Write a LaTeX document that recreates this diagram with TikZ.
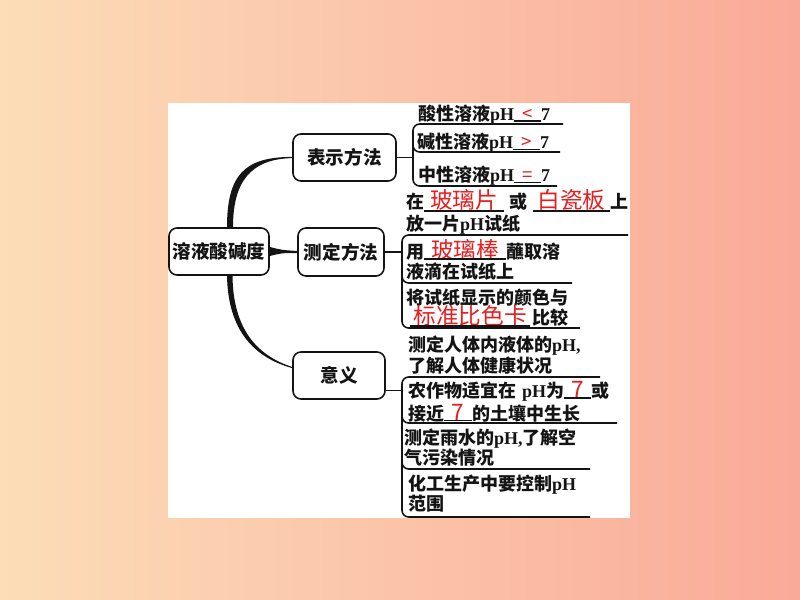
\documentclass[tikz,border=0pt]{standalone}
\usepackage{fontspec}
\usetikzlibrary{calc}
\newfontfamily\hei{Noto Sans CJK SC}
\newfontfamily\lat{Liberation Serif}
\newdimen\pxu \pxu=0.75pt
\definecolor{bgL}{RGB}{252,221,184}
\definecolor{bgM}{RGB}{251,200,170}
\definecolor{bgR}{RGB}{250,170,152}
\definecolor{ink}{RGB}{20,20,20}
\definecolor{redt}{RGB}{232,30,30}
\newcommand\pH{{\lat\bfseries pH}}
\newcommand\sev{{\lat\bfseries 7}}
\newcommand\cma{{\lat\bfseries ,}}
% [thickness]{width px}{raise pt}{size pt}{content}
\newcommand\gap[5][0.9]{\makebox[#2\pxu][c]{\color{redt}\mdseries\fontsize{#4pt}{#4pt}\selectfont #5}\llap{\rule[#3pt]{#2\pxu}{#1pt}}}
\begin{document}
\begin{tikzpicture}[x=0.75pt,y=-0.75pt,
  box/.style={draw=ink, line width=1.2pt, rounded corners=6pt, fill=white, inner sep=0pt, text=ink,
    font=\hei\bfseries\fontsize{13.9pt}{16pt}\selectfont},
  txt/.style={anchor=base west, inner sep=0pt, outer sep=0pt, text=ink,
    font=\hei\bfseries\fontsize{13.5pt}{16pt}\selectfont},
  uline/.style={draw=ink, line width=1.2pt, rounded corners=5pt},
  conn/.style={draw=ink, line width=1.2pt},
  taper/.style={fill=ink}]
\useasboundingbox (0,0) rectangle (800,600);
\shade[left color=bgL, middle color=bgM, right color=bgR] (0,0) rectangle (800,600);
\fill[white] (168,103) rectangle (630,518);

% main nodes
\node[box, minimum width=75pt, minimum height=35.25pt] (root) at (219,251.5) {溶液酸碱度};
\node[box, minimum width=77.25pt, minimum height=35.25pt] (n1) at (344.5,157.5) {表示方法};
\node[box, minimum width=64.5pt, minimum height=36pt] (n2) at (341,252) {测定方法};
\node[box, minimum width=69pt, minimum height=35.25pt] (n3) at (339,375.5) {意义};

% tapered connectors
\fill[taper] ($(root.north)+(8,0)$) .. controls ($(root.north)+(8,-52)$) and ($(n1.west)+(-48,-0.6)$) .. ($(n1.west)+(0,-0.6)$)
  -- ($(n1.west)+(0,0.6)$) .. controls ($(n1.west)+(-42,1.5)$) and ($(root.north)+(14,-45)$) .. ($(root.north)+(14,0)$) -- cycle;
\fill[taper] ($(root.east)+(0,-4.5)$) .. controls ($(root.east)+(12,-1.5)$) .. ($(n2.west)+(0,-1)$)
  -- ($(n2.west)+(0,1)$) .. controls ($(root.east)+(12,1.5)$) .. ($(root.east)+(0,4.5)$) -- cycle;
\fill[taper] ($(root.south)+(8,0)$) .. controls ($(root.south)+(9,55)$) and ($(n3.west)+(-38,-18)$) .. ($(n3.west)+(0,-7.4)$)
  -- ($(n3.west)+(0,-8.6)$) .. controls ($(n3.west)+(-36,-20)$) and ($(root.south)+(14,52)$) .. ($(root.south)+(13.5,0)$) -- cycle;

% branch connectors
\coordinate (s1) at (413,157.5);
\coordinate (s2) at (402,252);
\coordinate (s3) at (402,390.5);
\draw[conn] (n1.east) -- (s1);
\draw[conn] (n2.east) -- (s2);
\draw[conn] (n3.east |- s3) -- (s3);

% brackets / underlines
\draw[uline] (563,124) -- (413,124) -- (413,186) -- (557,186);
\draw[uline] (413,146) -- (413,152) -- (560,152);
\draw[uline] (628,235) -- (402,235) -- (402,328) -- (580,328);
\draw[uline] (402,277) -- (402,283) -- (572,283);
\draw[uline] (600,377) -- (402,377) -- (402,517) -- (590,517);
\draw[uline] (402,417) -- (402,423) -- (617,423);
\draw[uline] (402,463) -- (402,469) -- (590,469);

% group 1
\node[txt] (t1a) at (418,120) {酸性溶液\pH\gap{27}{-1.2}{14}{<}\sev};
\node[txt] (t1b) at (417,148.5) {碱性溶液\pH\gap{27}{-1.2}{14}{>}\sev};
\node[txt] (t1c) at (418,181.5) {中性溶液\pH\gap{27}{-1.2}{14}{=}\sev};

% group 2
\node[txt] (t2a) at (406,208) {在\gap{80}{-2.7}{17}{玻璃片}\hspace{5\pxu}或\hspace{6\pxu}\gap{77}{-2.7}{17}{白瓷板}上};
\node[txt] (t2b) at (406,230) {放一片\pH 试纸};
\node[txt] (t2c) at (406,258) {用\gap{82}{-1.2}{17}{玻璃棒}蘸取溶};
\node[txt] (t2d) at (406,278) {液滴在试纸上};
\node[txt] (t2e) at (406,304) {将试纸显示的颜色与};
\node[txt] (t2f) at (410,324) {\gap[1.8]{120}{-2.3}{17}{标准比色卡}\hspace{2\pxu}比较};

% group 3
\node[txt] (t3a) at (408,351) {测定人体内液体的\pH\cma};
\node[txt] (t3b) at (408,372) {了解人体健康状况};
\node[txt] (t3c) at (408,397) {农作物适宜在\hspace{6\pxu}\pH 为\gap{27}{-1.2}{17}{7}或};
\node[txt] (t3d) at (408,420) {接近\gap{28}{-0.9}{17}{7}的土壤中生长};
\node[txt] (t3e) at (404,444) {测定雨水的\pH\cma 了解空};
\node[txt] (t3f) at (404,464) {气污染情况};
\node[txt] (t3g) at (408,490) {化工生产中要控制\pH};
\node[txt] (t3h) at (408,510) {范围};
\end{tikzpicture}
\end{document}
